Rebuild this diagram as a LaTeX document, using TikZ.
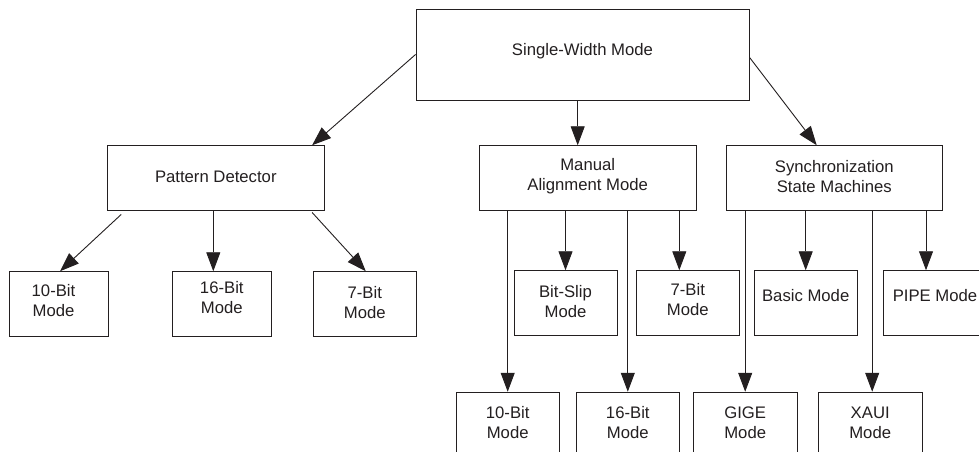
\documentclass[tikz,border=0pt]{standalone}
\usepackage{fontspec}
\setmainfont{Liberation Sans}
\usetikzlibrary{arrows.meta,calc}
\definecolor{ink}{HTML}{231F20}
\newcommand\tx[3][0pt]{\hspace*{#1}\raisebox{#2}[\height][\depth]{\begin{tabular}{@{}c@{}}#3\end{tabular}}}
\begin{document}
\begin{tikzpicture}[x=1pt,y=-1pt,
  box/.style={draw=ink,line width=0.9pt,rectangle,inner sep=0pt,text=ink,
    font=\fontsize{16.7}{20}\selectfont},
  arr/.style={draw=ink,line width=0.9pt,-{Triangle[length=19pt,width=14pt]}}]
\useasboundingbox (0,0) rectangle (979,452);
% level 0
\node[box,minimum width=333pt,minimum height=91pt] (top) at (582.5,54.5) {\tx{2.5pt}{Single-Width Mode}};
% level 1
\node[box,minimum width=216.3pt,minimum height=65pt] (pd) at (215.8,178.2) {\tx{0pt}{Pattern Detector}};
\node[box,minimum width=216.7pt,minimum height=65pt] (ma) at (587.7,178.2) {\tx{1.5pt}{Manual\\Alignment Mode}};
\node[box,minimum width=216.7pt,minimum height=65pt] (ss) at (834.3,178.2) {\tx{0pt}{Synchronization\\State Machines}};
% pattern detector children
\node[box,minimum width=99pt,minimum height=65pt] (p10) at (58.5,304.2) {\tx[-10pt]{2pt}{10-Bit\\Mode}};
\node[box,minimum width=99pt,minimum height=65pt] (p16) at (221.8,304.2) {\tx{5pt}{16-Bit\\Mode}};
\node[box,minimum width=103.7pt,minimum height=65pt] (p7) at (364.8,304.2) {\tx{0pt}{7-Bit\\Mode}};
% second row right
\node[box,minimum width=103pt,minimum height=64.6pt] (bs) at (565.5,303) {\tx{0pt}{Bit-Slip\\Mode}};
\node[box,minimum width=103pt,minimum height=64.6pt] (m7) at (687.8,303) {\tx{2pt}{7-Bit\\Mode}};
\node[box,minimum width=103.3pt,minimum height=64.6pt] (basic) at (805.7,303) {\tx{6pt}{Basic Mode}};
\node[box,minimum width=103pt,minimum height=64.6pt] (pipe) at (935,303) {\tx{6pt}{PIPE Mode}};
% third row
\node[box,minimum width=103.3pt,minimum height=65pt] (r10) at (507.7,424.7) {\tx{0pt}{10-Bit\\Mode}};
\node[box,minimum width=103pt,minimum height=65pt] (r16) at (627.8,424.7) {\tx{0pt}{16-Bit\\Mode}};
\node[box,minimum width=103.7pt,minimum height=65pt] (gige) at (745.2,424.7) {\tx{0pt}{GIGE\\Mode}};
\node[box,minimum width=103.7pt,minimum height=65pt] (xaui) at (870.2,424.7) {\tx{0pt}{XAUI\\Mode}};
% connectors from top
\draw[arr] (top.west) -- ([xshift=-12.3pt]pd.north east);
\draw[arr] ([xshift=-4.8pt]top.south) -- ([xshift=-10pt]ma.north);
\draw[arr] ([yshift=-2.8pt]top.east) -- ([xshift=-17.6pt]ss.north);
% pattern detector connectors
\draw[arr] ([xshift=14pt,yshift=-3.3pt]pd.south west) -- ([xshift=1.5pt]p10.north);
\draw[arr] ([xshift=-2.5pt]pd.south) -- ([xshift=-8.5pt]p16.north);
\draw[arr] ([xshift=-12.3pt,yshift=-1.3pt]pd.south east) -- ([xshift=1pt]p7.north);
% manual alignment connectors
\coordinate (m7in) at ([xshift=-8.5pt]m7.north);
\draw[arr] (ma.south -| r10.north) -- (r10.north);
\draw[arr] (ma.south -| bs.north) -- (bs.north);
\draw[arr] (ma.south -| r16.north) -- (r16.north);
\draw[arr] (ma.south -| m7in) -- (m7in);
% synchronization connectors
\coordinate (pipein) at ([xshift=-9pt]pipe.north);
\coordinate (xauiin) at ([xshift=2pt]xaui.north);
\draw[arr] (ss.south -| gige.north) -- (gige.north);
\draw[arr] (ss.south -| basic.north) -- (basic.north);
\draw[arr] (ss.south -| xauiin) -- (xauiin);
\draw[arr] (ss.south -| pipein) -- (pipein);
\end{tikzpicture}
\end{document}
